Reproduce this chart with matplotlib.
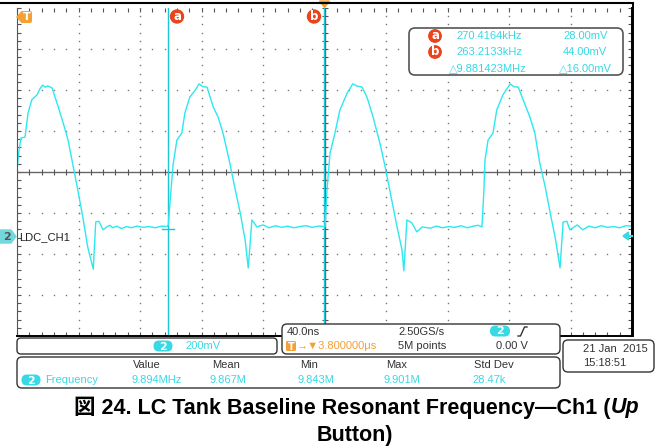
import numpy as np
import matplotlib
matplotlib.use('Agg')
import matplotlib.pyplot as plt
from matplotlib.patches import FancyBboxPatch, Circle, Polygon

### Trace, in divisions (40 ns/div, 200 mV/div)
t_div = [0.00, 0.03, 0.065, 0.13, 0.18, 0.24, 0.325, 0.38, 0.42, 0.46, 0.50, 0.57,
         0.67, 0.75, 0.83, 0.91, 0.98, 1.07, 1.15, 1.24, 1.28, 1.33, 1.40, 1.46,
         1.51, 1.56, 1.62, 1.70, 1.78, 1.86, 1.95, 2.05, 2.15, 2.25, 2.35, 2.44, 2.46,
         2.50, 2.54, 2.60, 2.68, 2.73, 2.81, 2.90, 2.96, 3.02, 3.09, 3.19, 3.27, 3.35,
         3.46, 3.54, 3.63, 3.71, 3.76, 3.82, 3.86, 3.90, 4.00, 4.10, 4.20, 4.30, 4.40,
         4.50, 4.60, 4.70, 4.80, 4.90, 5.01,
         5.04, 5.09, 5.17, 5.25, 5.37, 5.46, 5.52, 5.61, 5.69, 5.79, 5.90, 5.98, 6.07,
         6.18, 6.26, 6.29, 6.34, 6.42, 6.50, 6.59, 6.72, 6.82, 6.92, 7.02, 7.12, 7.22,
         7.32, 7.42, 7.50, 7.56,
         7.59, 7.61, 7.66, 7.74, 7.80, 7.90, 8.02, 8.08, 8.15, 8.23, 8.34, 8.42, 8.50,
         8.59, 8.67, 8.75, 8.83, 8.88, 8.94, 8.99, 9.11, 9.20, 9.30, 9.40, 9.50, 9.60,
         9.70, 9.80, 9.90, 10.0]
v_div = [0.05, 0.50, 0.83, 0.85, 1.44, 1.76, 1.88, 2.05, 2.12, 2.07, 2.10, 2.05,
         1.59, 1.20, 0.78, 0.17, -0.37, -1.10, -1.83, -2.37, -1.22, -1.20, -1.41, -1.34,
         -1.30, -1.36, -1.32, -1.38, -1.33, -1.36, -1.32, -1.35, -1.33, -1.36, -1.32, -1.33, -1.30,
         -0.51, 0.20, 0.78, 0.95, 1.44, 1.83, 2.00, 2.15, 2.08, 2.07, 1.59, 1.34, 0.95,
         0.22, -0.37, -1.00, -1.66, -2.34, -1.17, -1.25, -1.34, -1.29, -1.36, -1.31, -1.35, -1.32,
         -1.36, -1.33, -1.31, -1.35, -1.32, -1.33,
         -0.44, 0.46, 0.95, 1.51, 1.93, 2.15, 2.10, 2.07, 1.83, 1.34, 0.71, 0.17, -0.51,
         -1.34, -1.90, -2.41, -1.17, -1.24, -1.46, -1.34, -1.37, -1.32, -1.36, -1.33, -1.35, -1.31,
         -1.36, -1.32, -1.30, -1.34,
         -0.51, 0.29, 0.78, 0.95, 1.51, 1.88, 2.15, 2.08, 2.07, 1.76, 1.34, 0.95, 0.22,
         -0.37, -1.00, -1.59, -2.34, -1.22, -1.20, -1.41, -1.29, -1.41, -1.32, -1.36, -1.31, -1.35,
         -1.33, -1.36, -1.31, -1.32]

cursor_a = 2.455
cursor_b = 4.99
cursor_a_level = -1.39

readout_a = ['270.4164kHz', '28.00mV']
readout_b = ['263.2133kHz', '44.00mV']
readout_delta = ['\u25b39.881423MHz', '\u25b316.00mV']

meas_heads = ['Value', 'Mean', 'Min', 'Max', 'Std Dev']
meas_vals = ['9.894MHz', '9.867M', '9.843M', '9.901M', '28.47k']

TRACE = '#2ce8f0'
CYAN = '#38d8e4'
ORANGE = '#f5a033'
RED = '#e8451c'
DARK = '#333333'
SCOPE = ['Liberation Sans', 'DejaVu Sans']
W, H = 665, 448

fig = plt.figure(figsize=(W / 100, H / 100), dpi=100)

### Scope graticule
ax = fig.add_axes([17 / W, (H - 336) / H, 615 / W, 328 / H])
ax.set_xlim(0, 10)
ax.set_ylim(-4, 4)
ax.spines['top'].set_visible(False)
ax.spines['left'].set_color('#555555')
ax.spines['bottom'].set_color('black')
ax.spines['right'].set_color('black')
ax.spines['bottom'].set_linewidth(1.4)
ax.spines['right'].set_linewidth(1.4)
ax.set_xticks(np.arange(0, 10.01, 0.2))
ax.set_yticks(np.arange(-4, 4.01, 0.2))
ax.tick_params(direction='in', length=3, width=0.8, color='#555555',
  top=True, right=True, labelbottom=False, labelleft=False)

gx = np.arange(0, 10.01, 0.2)
gy = np.arange(-4, 4.01, 0.2)
for k in [1, 2, 3, 4, 6, 7, 8, 9]:
  ax.plot(np.full_like(gy, k), gy, ls='none', marker='s', ms=1.0,
    mec='none', mfc='#777777')
for k in [-3, -2, -1, 1, 2, 3]:
  ax.plot(gx, np.full_like(gx, k), ls='none', marker='s', ms=1.0,
    mec='none', mfc='#777777')
ax.axhline(0, color='#666666', lw=1.0)
ax.axvline(5, color='#666666', lw=1.0)
ax.plot(gx, np.zeros_like(gx), ls='none', marker='|', ms=5, mew=0.8, color='#555555')
ax.plot(np.full_like(gy, 5), gy, ls='none', marker='_', ms=5, mew=0.8, color='#555555')

### Cursors and trace
ax.axvline(cursor_a, color='#1cc6d6', lw=1.0)
ax.axvline(cursor_b, color='#1cc6d6', lw=1.0)
ax.plot([cursor_a - 0.1, cursor_a + 0.1], [cursor_a_level, cursor_a_level],
  color='#1cc6d6', lw=1.0)
ax.plot(t_div, v_div, color=TRACE, lw=1.0)

### Overlay in pixel coordinates
ov = fig.add_axes([0, 0, 1, 1])
ov.set_xlim(0, W)
ov.set_ylim(H, 0)
ov.axis('off')
ov.patch.set_alpha(0)

ov.plot([0, 632.5], [3.5, 3.5], color='black', lw=1.5)
ov.plot([632.5, 632.5], [3.5, 336], color='black', lw=1.4)


def rbox(x0, y0, x1, y1, r=5, ec='#444444', lw=1.1, fc='white'):
  ov.add_patch(FancyBboxPatch((x0, y0), x1 - x0, y1 - y0,
    boxstyle='round,pad=0,rounding_size=%g' % r, ec=ec, fc=fc, lw=lw))


def pill(cx, cy, label, w=19, h=11):
  ov.add_patch(FancyBboxPatch((cx - w / 2, cy - h / 2), w, h,
    boxstyle='round,pad=0,rounding_size=%g' % (h / 2), ec='none', fc=CYAN))
  ov.text(cx, cy + 0.5, label, color='white', ha='center', va='center',
    fontsize=8, fontweight='bold', family='DejaVu Sans')


def badge(cx, cy, label, r=6.5):
  ov.add_patch(Circle((cx, cy), r, color=RED))
  ov.text(cx, cy - 0.5, label, color='white', ha='center', va='center',
    fontsize=8.5, fontweight='bold', family='DejaVu Sans')


def txt(x, y, s, color=DARK, size=8):
  ov.text(x, y, s, color=color, ha='left', va='center', fontsize=size, family=SCOPE)


# trigger markers
ov.add_patch(FancyBboxPatch((21, 11), 11, 12, boxstyle='round,pad=0,rounding_size=2',
  ec='none', fc=ORANGE))
ov.add_patch(Polygon([[17, 17], [22, 11.5], [22, 22.5]], closed=True, color=ORANGE))
ov.text(26.5, 17.5, 'T', color='white', ha='center', va='center', fontsize=8,
  fontweight='bold', family='DejaVu Sans')
ov.add_patch(Polygon([[319.5, 1], [329.5, 1], [324.5, 7.5]], closed=True, color=ORANGE))
badge(177, 16.5, 'a')
badge(314, 16.5, 'b')

# cursor readout
rbox(409, 28, 623, 75, r=6, ec='#555555', lw=1.2)
badge(435, 36, 'a', r=6.2)
badge(435, 52, 'b', r=6.2)
txt(456, 36, readout_a[0], CYAN)
txt(563, 36, readout_a[1], CYAN)
txt(456, 52, readout_b[0], CYAN)
txt(563, 52, readout_b[1], CYAN)
txt(449, 68, readout_delta[0], CYAN)
txt(559, 68, readout_delta[1], CYAN)

# channel markers
ov.add_patch(Polygon([[0, 230], [11, 230], [16, 236.5], [11, 243], [0, 243]],
  closed=True, color='#72d8dc'))
ov.text(6.5, 237, '2', color='#555555', ha='center', va='center', fontsize=8,
  fontweight='bold', family='DejaVu Sans')
ov.text(19, 237, 'LDC_CH1', color='#222222', ha='left', va='center', fontsize=8,
  family=SCOPE)
ov.add_patch(Polygon([[623, 236], [628.5, 232], [628.5, 240]], closed=True, color=CYAN))
ov.plot([628, 632], [236, 236], color=CYAN, lw=1.5)

# bottom status boxes
rbox(17, 338, 277, 354, r=4, ec='#333333', lw=1.0)
pill(163, 346, '2')
txt(185, 346, '200mV', CYAN)

rbox(282, 324, 560, 354, r=5, ec='#333333', lw=1.0)
txt(287, 332, '40.0ns')
txt(398, 332, '2.50GS/s')
pill(500, 331, '2', w=20)
ov.plot([518, 520.5, 524.5, 527], [336, 336, 327, 327], color=DARK, lw=1.0)
ov.add_patch(FancyBboxPatch((286, 341), 10, 10, boxstyle='round,pad=0,rounding_size=1.5',
  ec='none', fc=ORANGE))
ov.text(291, 346.5, 'T', color='white', ha='center', va='center', fontsize=7,
  fontweight='bold', family='DejaVu Sans')
txt(297, 346, '\u2192\u25bc3.800000\u03bcs', ORANGE)
txt(398, 346, '5M points')
txt(496, 346, '0.00 V')

rbox(17, 357, 560, 388, r=5, ec='#333333', lw=1.0)
meas_x = [131, 210, 298, 384, 472]
for x, head, val in zip(meas_x, meas_heads, meas_vals):
  txt(x + 2, 365, head)
  txt(x, 380, val, CYAN)
pill(31, 380, '2')
txt(45, 380, 'Frequency', CYAN)

rbox(563, 340, 654, 372, r=5, ec='#333333', lw=1.0)
txt(583, 348.5, '21 Jan  2015')
txt(583, 363, '15:18:51')

### Caption, built from pieces so that "Up" can be italic
cap_family = ['Liberation Sans', 'Noto Sans CJK JP']
renderer = fig.canvas.get_renderer()


def caption_line(pieces, cx, y, size=15.5):
  arts = []
  for s, style in pieces:
    arts.append(ov.text(0, y, s, fontsize=size, fontweight='bold', fontstyle=style,
      family=cap_family, ha='left', va='center', color='black'))
  widths = [a.get_window_extent(renderer).width for a in arts]
  x = cx - sum(widths) / 2
  for a, w in zip(arts, widths):
    a.set_x(x)
    x += w


caption_line([('\u56f3 24. LC Tank Baseline Resonant Frequency\u2014Ch1 (', 'normal'),
  ('Up', 'italic')], 357, 408)
caption_line([('Button)', 'normal')], 355, 435)

plt.savefig('out.png', dpi=100)
